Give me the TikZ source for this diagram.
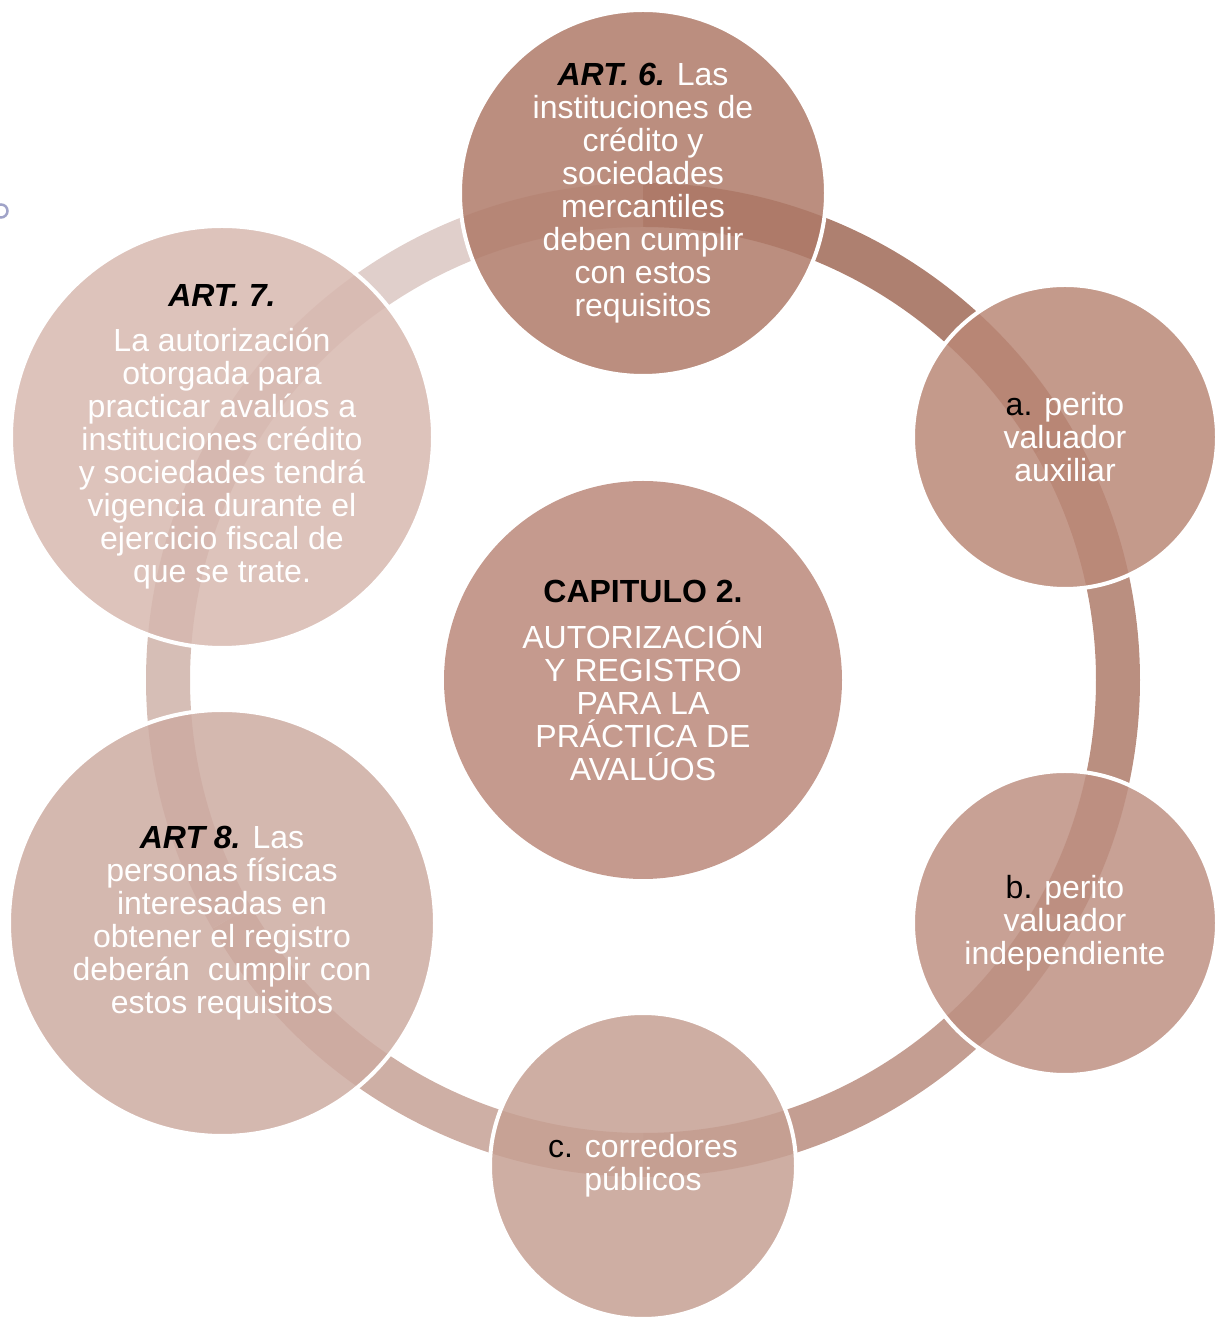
\documentclass[tikz,border=0pt]{standalone}
\usepackage{fontspec}
\setmainfont{Liberation Sans}

\definecolor{cTop}{RGB}{175,122,104}
\definecolor{cUR}{RGB}{186,136,119}
\definecolor{cLR}{RGB}{190,144,130}
\definecolor{cBot}{RGB}{198,160,147}
\definecolor{cLL}{RGB}{205,171,161}
\definecolor{cUL}{RGB}{215,184,175}
\definecolor{cMid}{RGB}{197,154,142}
\definecolor{ringa}{RGB}{174,128,112}
\definecolor{ringb}{RGB}{186,143,128}
\definecolor{ringc}{RGB}{196,158,146}
\definecolor{ringd}{RGB}{206,175,165}
\definecolor{ringe}{RGB}{214,190,182}
\definecolor{ringf}{RGB}{224,207,203}
\definecolor{dotc}{RGB}{160,163,200}

\newcommand{\lbl}[1]{\textcolor{black}{\textbf{\textit{#1}}}}
\newcommand{\ltr}[1]{\textcolor{black}{#1}}

\begin{document}
\begin{tikzpicture}[x=1pt, y=1pt]
            \tikzstyle{bubble}=[circle, draw=white, line width=4pt,
            fill opacity=0.85, inner sep=0pt]
            \tikzstyle{txt}=[align=center, text=white,
            font=\fontsize{32}{33}\selectfont]
            \tikzstyle{ring}=[line width=44pt]
            \useasboundingbox (0,0) rectangle (1219,1326);
            \coordinate (o) at (643,646);

            % ring behind the bubbles
            \foreach \s/\e/\c in {90/30/ringa, 30/-30/ringb, -30/-90/ringc,
                                  -90/-150/ringd, -150/-210/ringe, -210/-270/ringf}
            \draw[ring, \c] (o) ++(\s:475) arc[start angle=\s, end angle=\e, radius=475];

            \node[bubble, fill=cTop, minimum size=366pt] (art6) at (643,1133) {};
            \node[bubble, fill=cUR, minimum size=304pt] (pva) at (1065,889) {};
            \node[bubble, fill=cLR, minimum size=304pt] (pvi) at (1065,403) {};
            \node[bubble, fill=cBot, minimum size=306pt] (cp) at (643,160) {};
            \node[bubble, fill=cLL, minimum size=426pt] (art8) at (222,403) {};
            \node[bubble, fill=cUL, minimum size=422pt] (art7) at (222,889) {};
            \node[circle, fill=cMid, inner sep=0pt, minimum size=398pt] (cap) at (o) {};

            \node[txt] (art6-t) at (art6) {\lbl{ART. 6.} Las\\instituciones de\\crédito y\\sociedades\\mercantiles\\deben cumplir\\con estos\\requisitos};
            \node[txt] (pva-t) at (pva) {\ltr{a.} perito\\valuador\\auxiliar};
            \node[txt] (pvi-t) at (pvi) {\ltr{b.} perito\\valuador\\independiente};
            \node[txt] (cp-t) at (cp) {\ltr{c.} corredores\\públicos};
            \node[txt] (art8-t) at (art8) {\lbl{ART 8.} Las\\personas físicas\\interesadas en\\obtener el registro\\deberán~ cumplir con\\estos requisitos};
            \node[txt] (art7-t) at (art7) {\lbl{ART. 7.}\\[12pt]La autorización\\otorgada para\\practicar avalúos a\\instituciones crédito\\y sociedades tendrá\\vigencia durante el\\ejercicio fiscal de\\que se trate.};
            \node[txt] (cap-t) at (cap) {\textcolor{black}{\textbf{CAPITULO 2.}}\\[13pt]AUTORIZACIÓN\\Y REGISTRO\\PARA LA\\PRÁCTICA DE\\AVALÚOS};

            \node[circle, draw=dotc, line width=2.5pt, minimum size=13pt, inner sep=0pt] (dot) at (1,1115) {};
        \end{tikzpicture}
\end{document}
